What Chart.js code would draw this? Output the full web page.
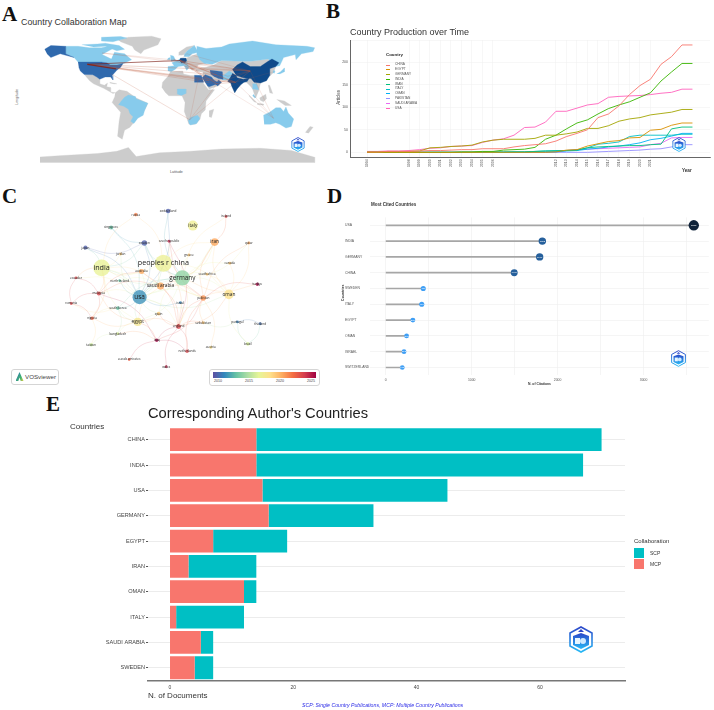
<!DOCTYPE html>
<html>
<head>
<meta charset="utf-8">
<script src="https://cdn.jsdelivr.net/npm/chart.js"></script>
<style>
body{margin:0;background:#fff;width:714px;height:710px;overflow:hidden;position:relative;font-family:"Liberation Sans",Arial,sans-serif}
canvas,.t,svg.badge{position:absolute}
.t{white-space:nowrap;line-height:1;color:#333}
.letter{font-family:"Liberation Serif",serif;font-weight:700;font-size:21px;color:#111}
</style>
</head>
<body>
<script>
// A - map
const greyLand=[
 [[-73,78],[-60,82],[-30,83.5],[-18,80],[-22,72],[-40,65],[-44,60],[-52,65],[-55,70],[-70,76]],
 [[-117,32.5],[-106,32],[-101,29],[-97,26],[-97,20],[-91,18],[-87,21],[-88,16],[-83,15],[-83,9],[-77,8],[-80,7],[-85,10],[-92,14],[-105,20],[-110,24],[-115,30]],
 [[-84,22],[-75,20],[-78,19.8],[-84,21]],
 [[-77,8],[-72,12],[-62,10],[-50,1],[-35,-6],[-39,-15],[-48,-25],[-58,-38],[-65,-42],[-68,-54],[-74,-50],[-72,-30],[-70,-18],[-81,-5],[-78,2]],
 [[-17,15],[-16,22],[-9,30],[-6,36],[10,37],[11,33],[20,31],[32,31],[37,20],[43,12],[51,12],[40,-3],[39,-15],[34,-20],[32,-28],[26,-34],[18,-34],[12,-17],[13,-5],[9,4],[-8,4],[-13,9]],
 [[44,-16],[50,-14],[47,-25],[44,-24]],
 [[14,54],[24,58],[30,60],[38,50],[40,47],[30,45],[28,41],[22,38],[18,42],[14,46]],
 [[4,58],[5,62],[15,69],[25,71],[16,64],[12,59],[8,58]],
 [[26,40],[40,42],[50,45],[60,51],[85,50],[98,50],[120,53],[130,43],[127,35],[122,30],[110,20],[108,11],[104,1],[100,13],[97,17],[92,22],[88,22],[80,13],[77,8],[72,20],[66,25],[57,25],[60,22],[55,17],[44,13],[35,28],[36,36],[27,37]],
 [[95,5],[105,-5],[102,-4],[96,3]],[[109,1],[117,6],[118,0],[114,-4],[110,-2]],[[106,-6],[114,-7],[114,-8.5],[106,-7.5]],
 [[131,-1],[141,-3],[150,-9],[142,-9],[135,-4]],[[120,18],[122,18],[126,7],[122,8]],[[168,-45],[174,-37],[178,-38],[172,-46]],
 [[-180,-78],[-150,-76],[-100,-73],[-75,-70],[-60,-65],[-50,-77],[-20,-72],[20,-70],[60,-67],[110,-66],[150,-69],[180,-78],[180,-85],[-180,-85]]
];
const lightLand=[
 [[-141,70],[-125,70],[-110,68],[-95,68],[-85,70],[-80,67],[-94,59],[-82,53],[-78,62],[-65,60],[-56,52],[-66,47],[-75,45],[-83,45],[-88,48],[-95,49],[-125,49],[-130,55],[-141,60]],
 [[-120,72],[-100,73],[-90,74],[-72,71],[-65,66],[-75,64],[-90,70],[-105,69]],[[-95,82],[-70,83],[-62,81],[-80,76],[-95,77]],
 [[-70,-4],[-65,2],[-60,5],[-51,3],[-50,0],[-35,-6],[-39,-15],[-41,-22],[-48,-26],[-53,-33],[-57,-30],[-54,-24],[-58,-20],[-60,-14],[-66,-10],[-73,-8]],
 [[28,70],[40,67],[60,69],[70,73],[100,77],[130,72],[170,70],[180,68],[178,63],[163,60],[156,52],[155,59],[140,55],[135,44],[130,43],[120,53],[98,50],[85,50],[60,51],[48,46],[38,47],[32,52],[28,60]],
 [[-9,37],[-9,43],[-1,44],[-4,48],[3,51],[8,54],[14,54],[16,47],[18,41],[15,38],[12,44],[4,43],[0,39],[-5,36]],
 [[12,56],[12,59],[16,64],[25,71],[30,62],[22,60],[18,56]],[[-5,50],[1,51],[-2,57],[-6,58]],[[-10,52],[-6,52],[-6,55],[-9,54]],
 [[3,6],[3,13],[14,13],[14,7],[8,4.5]],
 [[17,-29],[20,-25],[29,-22],[32,-26],[28,-33],[20,-35],[18,-33]],
 [[61,25],[67,25],[71,28],[74,34],[70,37],[61,30]],
 [[100,20],[105,20],[108,12],[100,13]],[[101,6],[104,2],[103,1],[100,4]],
 [[127,38],[129,37],[128,34],[126,35]],[[131,33],[136,36],[141,41],[141,36],[135,33]],
 [[114,-22],[122,-18],[130,-12],[136,-12],[140,-17],[143,-11],[146,-19],[153,-27],[150,-37],[143,-39],[135,-34],[130,-32],[123,-34],[115,-34]]
];
const midLand=[
 [[-125,49],[-95,49],[-88,48],[-83,45],[-75,45],[-67,47],[-70,42],[-75,38],[-81,31],[-80,25],[-83,29],[-90,29],[-97,26],[-101,29],[-106,32],[-117,32.5],[-122,37],[-124,42]],
 [[-168,66],[-160,71],[-141,70],[-141,60],[-130,55],[-148,60],[-160,55],[-165,60]],
 [[25,31.5],[34,31],[37,22],[25,22]],
 [[35,28],[39,32],[47,29],[50,25],[55,22],[52,19],[44,16],[42,17]],[[52,19],[56,25],[60,22],[55,17]],
 [[45,38],[54,37],[61,36],[62,26],[56,27],[50,30],[46,33]]
];
const darkLand=[
 [[6,51],[7,54],[14,54],[15,51],[13,48],[8,48]],
 [[74,39],[80,45],[87,49],[97,43],[110,43],[120,50],[125,53],[134,48],[130,43],[122,40],[122,31],[118,24],[110,21],[102,22],[98,27],[88,28],[79,31]],
 [[74,34],[79,31],[80,28],[88,26],[96,28],[93,23],[89,22],[85,19],[80,13],[77,8],[73,17],[72,21],[68,23],[71,28]]
];
const hubs={usa:[-113,46],usaE:[-76,40],usaS:[-82,33],canada:[-94,61],germany:[6.5,51],sweden:[15,60],italy:[12,43],england:[-2,53],china:[97,37],india:[78,22],
 oman:[54,20],saudi:[44,24],iran:[54,32],egypt:[30,27],pakistan:[68,30],southAfrica:[19,-28],australia:[127,-26],malaysia:[102,4],korea:[127,36],japan:[138,36]};
const mapLinks=[["usa","germany",.8],["usa","usaE",1.3],["usa","china",.5],["usa","india",.5],["usa","saudi",.5],["usa","oman",.4],["usa","egypt",.4],["usa","iran",.4],["usaS","southAfrica",.4],
 ["canada","germany",.3],["canada","china",.3],["germany","china",.6],["germany","india",.5],["germany","oman",.6],["germany","saudi",.5],["germany","iran",.4],["germany","pakistan",.4],["germany","sweden",.3],
 ["england","india",.3],["england","oman",.3],["italy","india",.3],["italy","china",.3],["china","india",.5],["china","oman",.4],["china","pakistan",.4],["china","sweden",.3],["india","saudi",.5],["india","oman",.4],
 ["oman","southAfrica",.3],["egypt","southAfrica",.3],["india","southAfrica",.3],["india","australia",.25],["oman","australia",.25],["china","australia",.3],["malaysia","australia",.25],["saudi","egypt",.4],["korea","india",.25]];

// B - production over time
const years=[1994,1995,1996,1997,1998,1999,2000,2001,2002,2003,2004,2005,2006,2007,2008,2009,2010,2011,2012,2013,2014,2015,2016,2017,2018,2019,2020,2021,2022,2023,2024,2025];
const yearTicks=[1994,1998,1999,2000,2001,2002,2003,2004,2005,2006,2012,2013,2014,2015,2016,2017,2018,2019,2020,2021];
const countries=["CHINA","EGYPT","GERMANY","INDIA","IRAN","ITALY","OMAN","PAKISTAN","SAUDI ARABIA","USA"];
const countryColors=["#F8766D","#D89000","#A3A500","#39B600","#00BF7D","#00BFC4","#00B0F6","#9590FF","#E76BF3","#FF62BC"];
const china=[1,1,2,2,2,3,4,4,5,6,6,8,8,8,12,15,17,19,25,35,42,50,77,85,103,128,148,162,195,212,238,238];
const egypt=[0,0,0,0,0,0,0,0,0,0,0,0,0,0,0,0,0,0,1,5,6,14,19,24,26,32,33,49,51,60,65,65];
const germany=[1,1,2,2,2,3,10,11,13,14,16,23,27,29,29,29,31,38,38,41,45,53,53,59,69,74,77,83,86,89,95,95];
const india=[0,0,0,0,0,0,0,0,0,1,1,2,2,5,6,7,11,29,38,52,65,72,85,97,105,112,122,132,158,178,197,197];
const iran=[0,0,0,0,0,0,0,0,0,0,0,1,1,1,1,1,2,3,3,4,5,10,12,13,14,15,15,17,18,52,56,56];
const italy=[0,0,0,0,0,0,0,0,0,0,0,0,0,0,1,1,2,3,4,4,5,10,18,20,23,35,38,38,38,38,40,40];
const oman=[0,0,0,0,0,0,0,0,0,0,0,0,0,0,0,0,1,1,1,3,4,7,9,12,14,17,21,28,31,36,42,42];
const pakistan=[0,0,0,0,0,0,0,0,0,0,0,0,0,0,0,0,0,0,0,0,0,0,1,2,3,4,5,7,8,12,17,17];
const saudi=[0,0,0,0,0,0,0,0,0,0,0,0,0,0,0,0,0,0,1,4,6,7,8,9,10,11,12,17,20,32,33,33];
const usa=[2,2,3,3,4,6,9,10,13,14,15,22,27,30,38,55,56,67,91,91,98,105,108,122,124,125,126,128,131,133,140,140];
const productionSeries=[china,egypt,germany,india,iran,italy,oman,pakistan,saudi,usa];

// C - network
const nodeNames=["switzerland","russia","ireland","singapore","italy","japan","sweden","czech republic","iran","qatar","jordan","greece","peoples r china","india","canada","australia","south africa","germany","ecuador","north ireland","turkiye","saudi arabia","malaysia","oman","usa","pakistan","romania","israel","south korea","spain","nigeria","egypt","uzbekistan","portugal","thailand","england","bangladesh","iraq","brazil","taiwan","austria","netherlands","u arab emirates","wales"];
const nodeX=[168,134,229,108,194,81,143,169,217,253,118,190,163,98,233,140,209,183,71,117,262,160,95,232,138,205,66,181,115,158,88,136,205,241,265,179,115,156,252,87,213,188,127,166];
const nodeY=[19,23,25,37,35,59,54,52,53,54,66,67,76,81,76,85,88,92,92,95,99,101,109,110,113,114,120,119,125,131,136,140,141,140,142,145,153,160,164,165,168,172,181,189];
const nodeDocs=[5,3,2,4,24,4,7,2,14,2,2,2,70,67,2,6,2,55,2,2,3,12,4,22,48,7,2,2,3,3,3,16,2,2,2,6,2,3,3,3,2,3,2,2];
const nodeYear=[2010,2021,2023,2013,2017,2010,2010,2024,2020,2020,2019,2019,2016.8,2016.6,2019,2020,2019,2014,2023,2013,2025,2020,2023,2018,2011.5,2020.5,2023,2011,2013,2019,2022,2017.5,2019,2011,2010.5,2023,2016,2025,2016,2015.5,2018,2023,2022,2024];
const networkLinks=[["switzerland","usa"],["switzerland","germany"],["russia","peoples r china"],["russia","india"],["ireland","iran"],["ireland","germany"],["singapore","usa"],["singapore","sweden"],
 ["japan","usa"],["japan","sweden"],["japan","india"],["sweden","peoples r china"],["sweden","usa"],["sweden","germany"],["sweden","india"],["czech republic","germany"],["czech republic","england"],["czech republic","pakistan"],
 ["iran","germany"],["iran","oman"],["iran","saudi arabia"],["iran","pakistan"],["iran","usa"],["iran","peoples r china"],["qatar","oman"],["qatar","pakistan"],["qatar","germany"],["jordan","usa"],["jordan","india"],["greece","germany"],
 ["peoples r china","india"],["peoples r china","germany"],["peoples r china","usa"],["peoples r china","saudi arabia"],["peoples r china","oman"],["peoples r china","pakistan"],["peoples r china","england"],["peoples r china","australia"],
 ["india","usa"],["india","germany"],["india","malaysia"],["india","egypt"],["india","saudi arabia"],["india","australia"],["india","nigeria"],["india","ecuador"],["canada","oman"],["canada","germany"],
 ["australia","england"],["australia","malaysia"],["australia","usa"],["south africa","germany"],["south africa","oman"],["germany","usa"],["germany","oman"],["germany","pakistan"],["germany","england"],["germany","spain"],["germany","egypt"],["germany","south korea"],
 ["ecuador","malaysia"],["ecuador","romania"],["ecuador","usa"],["north ireland","usa"],["north ireland","saudi arabia"],["turkiye","pakistan"],["turkiye","germany"],["saudi arabia","usa"],["saudi arabia","pakistan"],["saudi arabia","egypt"],["saudi arabia","england"],["saudi arabia","malaysia"],
 ["malaysia","usa"],["malaysia","romania"],["malaysia","nigeria"],["malaysia","egypt"],["malaysia","iraq"],["oman","pakistan"],["oman","usa"],["oman","brazil"],["oman","england"],["usa","egypt"],["usa","south korea"],["usa","israel"],["usa","england"],["usa","spain"],["usa","pakistan"],
 ["pakistan","england"],["pakistan","iraq"],["pakistan","uzbekistan"],["pakistan","austria"],["pakistan","netherlands"],["romania","nigeria"],["romania","south korea"],["israel","england"],["south korea","egypt"],["south korea","bangladesh"],["south korea","nigeria"],
 ["spain","egypt"],["spain","england"],["nigeria","taiwan"],["nigeria","egypt"],["egypt","iraq"],["egypt","bangladesh"],["egypt","england"],["uzbekistan","portugal"],["portugal","thailand"],["portugal","brazil"],["thailand","brazil"],["england","iraq"],["england","netherlands"],["england","wales"],["england","uzbekistan"],["iraq","u arab emirates"],["iraq","netherlands"],["iraq","bangladesh"],["taiwan","bangladesh"]];
const colorbarTicks=[2010,2015,2020,2025];
const spectral=[[94,79,162],[50,136,189],[102,194,165],[171,221,164],[230,245,152],[254,224,139],[253,174,97],[244,109,67],[213,62,79],[158,1,66]];

// D - most cited
const citedCountries=["USA","INDIA","GERMANY","CHINA","SWEDEN","ITALY","EGYPT","OMAN","ISRAEL","SWITZERLAND"];
const citations=[3585,1822,1791,1495,436,418,315,242,212,192];
const citationTicks=[0,500,1000,1500,2000,2500,3000,3500];

// E - corresponding authors
const authorCountries=["CHINA","INDIA","USA","GERMANY","EGYPT","IRAN","OMAN","ITALY","SAUDI ARABIA","SWEDEN"];
const mcpDocs=[14,14,15,16,7,3,12,1,5,4];
const scpDocs=[56,53,30,17,12,11,2,11,2,3];
const docTicks=[0,20,40,60];

function text(str,x,y,size,extra){
  const d=document.createElement('div');
  d.className='t';d.textContent=str;
  d.style.cssText=`left:${x}px;top:${y}px;font-size:${size}px;`+(extra||'');
  document.body.appendChild(d);return d;
}
function panel(left,top,w,h){
  const c=document.createElement('canvas');
  c.width=w;c.height=h;c.style.left=left+'px';c.style.top=top+'px';c.style.width=w+'px';c.style.height=h+'px';
  document.body.appendChild(c);return c;
}
function badge(cx,cy,w,h){
  const s=document.createElementNS('http://www.w3.org/2000/svg','svg');
  s.setAttribute('class','badge');s.setAttribute('viewBox','0 0 24 27');
  s.style.cssText=`left:${cx-w/2}px;top:${cy-h/2}px;width:${w}px;height:${h}px`;
  s.innerHTML='<defs><linearGradient id="bg'+cx+'" x1="0" y1="0" x2="0" y2="1"><stop offset="0" stop-color="#2b47c9"/><stop offset="1" stop-color="#28b8f5"/></linearGradient></defs>'
   +'<polygon points="12,1 23,7 23,20 12,26 1,20 1,7" fill="#fff" stroke="url(#bg'+cx+')" stroke-width="1.6"/>'
   +'<polygon points="4,10 12,7 20,10 20,19 12,23 4,19" fill="url(#bg'+cx+')"/>'
   +'<circle cx="14" cy="15" r="3" fill="#cfeaff"/><rect x="6" y="12" width="5" height="6" fill="#e8f6ff"/>'
   +'<polygon points="12,3 15,6 9,6" fill="#2b47c9"/>';
  document.body.appendChild(s);
}
const fitAxis=size=>axis=>{if(axis.isHorizontal())axis.height=size;else axis.width=size;};
const setTicks=list=>axis=>{axis.ticks=list.map(v=>({value:v}));};
function yearColor(y,a){
  const t=Math.min(.999,Math.max(0,(y-2009.5)/15.5))*(spectral.length-1),i=Math.floor(t),f=t-i;
  const c=spectral[i].map((v,k)=>Math.round(v+(spectral[i+1][k]-v)*f));
  return `rgba(${c[0]},${c[1]},${c[2]},${a})`;
}
Chart.defaults.animation=false;
Chart.defaults.responsive=false;
Chart.defaults.font.family='"Liberation Sans",Arial,sans-serif';
Chart.defaults.plugins.legend.display=false;
Chart.defaults.plugins.tooltip.enabled=false;

// panel letters
[["A",2,4],["B",326,1],["C",2,186],["D",327,186],["E",46,394]].forEach(l=>text(l[0],l[1],l[2],21).classList.add('letter'));

// ---------- A
const landSets=[];
const addLand=(list,color)=>list.forEach(p=>landSets.push({type:'scatter',showLine:true,fill:'shape',data:p.map(q=>({x:q[0],y:q[1]})),backgroundColor:color,borderColor:color,borderWidth:.3,pointRadius:0}));
addLand(greyLand,'#cccccc');addLand(lightLand,'#87cbec');addLand(midLand,'#2f69ad');addLand(darkLand,'#0f4a8a');
const linkSets=mapLinks.map(l=>({type:'scatter',showLine:true,data:[hubs[l[0]],hubs[l[1]]].map(q=>({x:q[0],y:q[1]})),borderColor:l[2]>.7?'rgba(125,30,20,.8)':'rgba(190,90,60,.5)',borderWidth:l[2],pointRadius:0}));
new Chart(panel(40,30,280,140),{type:'scatter',data:{datasets:linkSets.concat(landSets.reverse())},
  options:{scales:{x:{display:false,min:-174,max:186.9},y:{display:false,min:-95,max:91.7}}}});
text("Country Collaboration Map",21,18,8.9);
text("Latitude",170,171,3.6,'color:#555');
text("Longitude",10,95,3.6,'color:#555;transform:rotate(-90deg);transform-origin:center');
badge(298,144,14,15);

// ---------- B
const productionSets=productionSeries.map((s,i)=>({label:countries[i],data:s.map((v,k)=>({x:years[k],y:v})),borderColor:countryColors[i],borderWidth:.9,pointRadius:0,tension:0}));
new Chart(panel(330,30,384,145),{type:'line',data:{datasets:productionSets},
  options:{layout:{padding:{top:10,right:4}},scales:{
    x:{type:'linear',min:1992.38,max:2026.67,afterFit:fitAxis(17.7),afterBuildTicks:setTicks(yearTicks),
       border:{color:'#666',width:1},grid:{color:'#efefef',lineWidth:.5,drawTicks:false},
       ticks:{autoSkip:false,minRotation:90,maxRotation:90,padding:2,color:'#555',font:{size:3.5},callback:v=>String(v)}},
    y:{min:-11,max:249,afterFit:fitAxis(20),border:{color:'#666',width:1},grid:{color:'#efefef',lineWidth:.5,drawTicks:false},
       ticks:{stepSize:50,padding:2,color:'#555',font:{size:3.5},callback:v=>v%50==0&&v>=0?String(v):''}}}}});
text("Country Production over Time",350,28,9);
text("Articles",332,95,4.5,'transform:rotate(-90deg);color:#444');
text("Year",682,169,4.6,'font-weight:700;color:#333');
text("Country",386,53,4.4,'font-weight:700;color:#222');
countries.forEach((n,i)=>{
  const y=63.3+i*4.82;
  text(n,395,y,3.2,'color:#555');
  const d=document.createElement('div');
  d.style.cssText=`position:absolute;left:386px;top:${y+1.2}px;width:4px;height:.8px;background:${countryColors[i]}`;
  document.body.appendChild(d);
});
badge(679,144,14,15);

// ---------- C
const nodeIndex=n=>nodeNames.indexOf(n);
const edgeSets=networkLinks.map((l,k)=>{
  const a=nodeIndex(l[0]),b=nodeIndex(l[1]);
  const mx=(nodeX[a]+nodeX[b])/2,my=(nodeY[a]+nodeY[b])/2,dx=nodeX[b]-nodeX[a],dy=nodeY[b]-nodeY[a],s=k%2?.14:-.14;
  return {type:'scatter',showLine:true,tension:.45,data:[{x:nodeX[a],y:nodeY[a]},{x:mx-dy*s,y:my+dx*s},{x:nodeX[b],y:nodeY[b]}],
    borderColor:yearColor((nodeYear[a]+nodeYear[b])/2,.3),borderWidth:.55,pointRadius:0};
});
const nodeRadius=nodeDocs.map(v=>Math.max(1,1.02*Math.sqrt(v)));
const nodeSet={type:'scatter',data:nodeNames.map((n,i)=>({x:nodeX[i],y:nodeY[i]})),pointRadius:nodeRadius,
  pointBackgroundColor:nodeYear.map(y=>yearColor(y,.78)),pointBorderWidth:0};
const nodeLabels={id:'nodeLabels',afterDatasetsDraw(chart){
  const g=chart.ctx,xs=chart.scales.x,ys=chart.scales.y;
  g.save();g.textAlign='center';g.textBaseline='middle';g.fillStyle='#222';
  nodeNames.forEach((n,i)=>{
    const size=nodeDocs[i]>=40?(nodeDocs[i]>=60?7.2:6.4):nodeDocs[i]>=12?4.8:3.1;
    g.font=size+'px "Open Sans",sans-serif';
    g.fillText(n,xs.getPixelForValue(nodeX[i]),ys.getPixelForValue(nodeY[i]));
  });
  g.restore();
}};
new Chart(panel(0,185,340,205),{type:'scatter',data:{datasets:[nodeSet].concat(edgeSets)},plugins:[nodeLabels],
  options:{scales:{x:{display:false,min:0,max:340},y:{display:false,min:0,max:205,reverse:true}}}});
const boxStyle='position:absolute;border:.6px solid #d5d5d5;border-radius:3px;background:#fff;box-sizing:border-box;';
const vosBox=document.createElement('div');vosBox.style.cssText=boxStyle+'left:11px;top:369px;width:48px;height:16px';document.body.appendChild(vosBox);
text("VOSviewer",25,374,6.2,'color:#444');
const vosIcon=document.createElement('div');
vosIcon.style.cssText='position:absolute;left:15.5px;top:372px;width:8px;height:9px;background:linear-gradient(120deg,#2d6fc0,#3fb26f 60%,#f0d040);clip-path:polygon(50% 0,100% 100%,65% 100%,50% 60%,35% 100%,0 100%)';
document.body.appendChild(vosIcon);
const barBox=document.createElement('div');barBox.style.cssText=boxStyle+'left:209px;top:369px;width:111px;height:17px';document.body.appendChild(barBox);
const colorbar=document.createElement('div');
colorbar.style.cssText='position:absolute;left:213px;top:372px;width:103px;height:6px;background:linear-gradient(90deg,'+spectral.map(c=>`rgb(${c})`).join(',')+')';
document.body.appendChild(colorbar);
colorbarTicks.forEach(v=>{text(String(v),213+(v-2009.2)*6.2-4,380,3.6,'color:#444');});

// ---------- D
const lollipopColor=v=>{const t=v/3585;return t>.9?'#10233a':t>.35?'#26609c':'#3f9ff5';};
const valueLabels={id:'valueLabels',afterDatasetsDraw(chart){
  const g=chart.ctx,m=chart.getDatasetMeta(0).data;
  g.save();g.textAlign='center';g.textBaseline='middle';g.fillStyle='#fff';g.font='2.4px "Liberation Sans"';
  m.forEach((p,i)=>g.fillText(citations[i],p.x,p.y));
  g.restore();
}};
new Chart(panel(345,195,369,195),{type:'bar',plugins:[valueLabels],
  data:{labels:citedCountries,datasets:[
    {type:'line',data:citations,showLine:false,indexAxis:'y',pointRadius:citations.map(v=>2.2+v/1200),pointBackgroundColor:citations.map(lollipopColor),pointBorderWidth:0},
    {data:citations,backgroundColor:'#a6a6a6',barThickness:1}]},
  options:{indexAxis:'y',layout:{padding:{top:22.4,right:2}},scales:{
    x:{min:-184,max:3760,afterFit:fitAxis(14.6),afterBuildTicks:setTicks(citationTicks),border:{display:false},grid:{color:'#eeeeee',lineWidth:.6,drawTicks:false},
       ticks:{autoSkip:false,maxRotation:0,padding:3,color:'#555',font:{size:3.4},callback:v=>v%1000==0?String(v):''}},
    y:{afterFit:fitAxis(25),border:{display:false},grid:{offset:false,color:'#eeeeee',lineWidth:.6,drawTicks:false},
       ticks:{autoSkip:false,padding:0,color:'#555',font:{size:3.4},crossAlign:'far',callback(v){return this.getLabelForValue(v);}}}}}});
text("Most Cited Countries",371,202.5,4.5,'font-weight:700;color:#333');
text("N. of Citations",528,383,3.4,'font-weight:700;color:#333');
text("Countries",335,291,3.6,'font-weight:700;color:#333;transform:rotate(-90deg)');
badge(678,358,15,17);

// ---------- E
new Chart(panel(60,420,654,290),{type:'bar',
  data:{labels:authorCountries,datasets:[
    {label:'MCP',data:mcpDocs,backgroundColor:'#F8766D'},
    {label:'SCP',data:scpDocs,backgroundColor:'#00BFC4'}]},
  options:{indexAxis:'y',layout:{padding:{top:7,right:89}},
    datasets:{bar:{barPercentage:.9,categoryPercentage:1}},
    scales:{
      x:{stacked:true,min:-3.57,max:73.8,afterFit:fitAxis(29.6),afterBuildTicks:setTicks(docTicks),border:{color:'#777',width:1.4},grid:{display:false,drawTicks:false},
         ticks:{autoSkip:false,padding:4,color:'#444',font:{size:5},callback:v=>String(v)}},
      y:{stacked:true,afterFit:fitAxis(88),border:{display:false},grid:{offset:false,color:'#ececec',lineWidth:1,tickColor:'#555',tickLength:2},
         ticks:{autoSkip:false,padding:1,color:'#444',font:{size:5.6}}}}}});
text("Corresponding Author's Countries",148,406,14.7,'color:#222');
text("Countries",70,423,8,'color:#333');
text("N. of Documents",148,692,8,'color:#333');
text("SCP: Single Country Publications, MCP: Multiple Country Publications",302,702.5,5.2,'color:#2a2ae6;font-style:italic');
text("Collaboration",634,538,6,'color:#333');
[["SCP","#00BFC4",547.5],["MCP","#F8766D",558.5]].forEach(l=>{
  const s=document.createElement('div');
  s.style.cssText=`position:absolute;left:634px;top:${l[2]}px;width:10px;height:10px;background:${l[1]}`;
  document.body.appendChild(s);
  text(l[0],650,l[2]+3,5,'color:#333');
});
badge(581,639,24,27);
</script>
</body>
</html>
